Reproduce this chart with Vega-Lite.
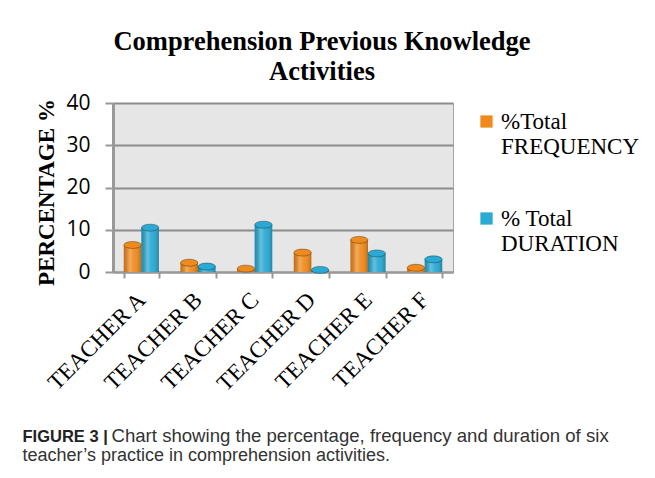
{
  "$schema": "https://vega.github.io/schema/vega-lite/v6.json",
  "width": 340,
  "height": 169,
  "autosize": "none",
  "padding": {"left": 113, "top": 103, "right": 202, "bottom": 206},
  "background": "white",
  "title": {
    "text": ["Comprehension  Previous Knowledge", "Activities"],
    "font": "Liberation Serif",
    "fontSize": 26.5,
    "fontWeight": "bold",
    "color": "#000000",
    "anchor": "middle",
    "frame": "group",
    "dx": 39,
    "lineHeight": 30,
    "offset": 7
  },
  "data": {
    "values": [
      {"teacher": "TEACHER A", "series": "%Total FREQUENCY", "value": 6.4},
      {"teacher": "TEACHER A", "series": "% Total DURATION", "value": 10.5},
      {"teacher": "TEACHER B", "series": "%Total FREQUENCY", "value": 2.2},
      {"teacher": "TEACHER B", "series": "% Total DURATION", "value": 1.3},
      {"teacher": "TEACHER C", "series": "%Total FREQUENCY", "value": 0.8},
      {"teacher": "TEACHER C", "series": "% Total DURATION", "value": 11.2},
      {"teacher": "TEACHER D", "series": "%Total FREQUENCY", "value": 4.6},
      {"teacher": "TEACHER D", "series": "% Total DURATION", "value": 0.5},
      {"teacher": "TEACHER E", "series": "%Total FREQUENCY", "value": 7.6},
      {"teacher": "TEACHER E", "series": "% Total DURATION", "value": 4.4},
      {"teacher": "TEACHER F", "series": "%Total FREQUENCY", "value": 1.0},
      {"teacher": "TEACHER F", "series": "% Total DURATION", "value": 3.0}
    ]
  },
  "view": {"fill": "#e6e6e6", "stroke": "#a6a6a6"},
  "layer": [
    {
      "mark": {"type": "bar"},
      "encoding": {
        "x": {
          "field": "teacher", "type": "nominal", "sort": null,
          "scale": {"paddingInner": 0.38, "paddingOuter": 0.19},
          "axis": {
            "labelAngle": -45, "labelAlign": "right", "labelBaseline": "middle",
            "labelFont": "Liberation Serif", "labelFontSize": 23, "labelColor": "#000000",
            "labelPadding": 18, "tickBand": "extent", "tickSize": 6, "tickColor": "#999999",
            "tickWidth": 2, "domainColor": "#999999", "domainWidth": 2, "grid": false,
            "title": "FIGURE 3 |", "titleFont": "Liberation Sans", "titleFontSize": 16.5,
            "titleFontWeight": "bold", "titleColor": "#222222", "titleX": -91, "titleY": 169,
            "titleAlign": "left", "titleBaseline": "alphabetic", "titleAngle": 0
          }
        },
        "xOffset": {"field": "series", "type": "nominal", "sort": null, "scale": {"paddingInner": 0}},
        "y": {
          "field": "value", "type": "quantitative", "scale": {"domain": [0, 40]},
          "axis": {
            "values": [0, 10, 20, 30, 40], "labelFont": "Open Sans", "labelFontSize": 21,
            "labelColor": "#000000", "labelPadding": 15, "tickSize": 8, "tickColor": "#999999",
            "tickWidth": 2, "domainColor": "#999999", "domainWidth": 3, "grid": true,
            "gridColor": "#8c8c8c", "gridWidth": 2,
            "title": "PERCENTAGE %", "titleFont": "Liberation Serif", "titleFontSize": 23,
            "titleFontWeight": "bold", "titleColor": "#000000", "titleAngle": -90,
            "titleX": -60, "titleY": 89, "titleAlign": "center", "titleBaseline": "alphabetic"
          }
        },
        "color": {
          "field": "series", "type": "nominal", "sort": null,
          "scale": {"range": ["#f08a1c", "#29a9d3"]},
          "legend": {
            "orient": "none", "legendX": 362, "legendY": 7, "title": null,
            "symbolType": "square", "symbolSize": 150, "symbolStrokeWidth": 0,
            "labelFont": "Liberation Serif", "labelFontSize": 23, "labelColor": "#000000",
            "labelLimit": 0, "labelOffset": 3, "rowPadding": 48, "labelBaseline": "middle",
            "labelExpr": "datum.label == '%Total FREQUENCY' ? ['%Total', 'FREQUENCY'] : ['% Total', 'DURATION']"
          }
        }
      }
    },
    {
      "mark": {
        "type": "bar",
        "fill": {
          "gradient": "linear", "x1": 0, "y1": 0, "x2": 1, "y2": 0,
          "stops": [
            {"offset": 0, "color": "rgba(0,0,0,0.2)"},
            {"offset": 0.35, "color": "rgba(255,255,255,0.28)"},
            {"offset": 0.6, "color": "rgba(255,255,255,0.05)"},
            {"offset": 1, "color": "rgba(0,0,0,0.22)"}
          ]
        }
      },
      "encoding": {
        "x": {
          "field": "teacher", "type": "nominal", "sort": null,
          "axis": {
            "orient": "bottom", "labels": false, "ticks": false, "domain": false, "grid": false,
            "title": "Chart showing the percentage, frequency and duration of six",
            "titleFont": "Liberation Sans", "titleFontSize": 18.6, "titleFontWeight": "normal",
            "titleColor": "#333333", "titleX": -2, "titleY": 169, "titleAlign": "left",
            "titleBaseline": "alphabetic", "titleAngle": 0
          }
        },
        "xOffset": {"field": "series", "type": "nominal", "sort": null},
        "y": {
          "field": "value", "type": "quantitative",
          "axis": {
            "orient": "right", "labels": false, "ticks": false, "domain": false, "grid": false,
            "title": "teacher’s practice in comprehension activities.",
            "titleFont": "Liberation Sans", "titleFontSize": 18, "titleFontWeight": "normal",
            "titleColor": "#333333", "titleAngle": 0, "titleX": -431, "titleY": 357,
            "titleAlign": "left", "titleBaseline": "alphabetic"
          }
        }
      }
    },
    {
      "mark": {
        "type": "point", "filled": true, "opacity": 1,
        "shape": "M -1 0 A 1 0.4 0 1 0 1 0 A 1 0.4 0 1 0 -1 0 Z",
        "size": 300, "stroke": "rgba(0,0,0,0.3)", "strokeWidth": 1
      },
      "encoding": {
        "x": {"field": "teacher", "type": "nominal", "sort": null, "axis": null},
        "xOffset": {"field": "series", "type": "nominal", "sort": null},
        "y": {"field": "value", "type": "quantitative", "axis": null},
        "color": {"field": "series", "type": "nominal", "sort": null, "legend": null}
      }
    }
  ],
  "resolve": {"axis": {"x": "independent", "y": "independent"}}
}
